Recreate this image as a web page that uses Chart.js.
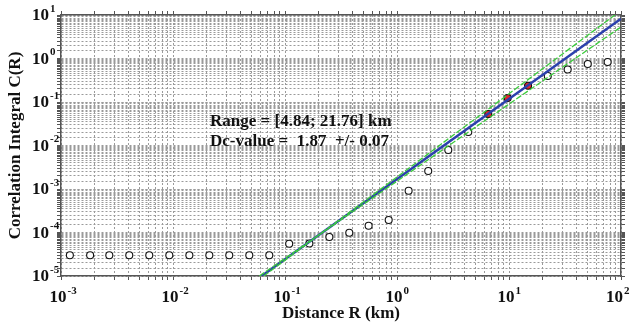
<!DOCTYPE html>
<html>
<head>
<meta charset="utf-8">
<script src="https://cdn.jsdelivr.net/npm/chart.js@4"></script>
<style>
  html, body { margin: 0; padding: 0; background: #fff; }
  #wrap { width: 630px; height: 322px; }
</style>
</head>
<body>
<div id="wrap"><canvas id="corrChart" width="630" height="322"></canvas></div>
<script>
// Correlation integral C(R) against distance R (km)
const distR = [0.0012, 0.00182, 0.0027, 0.00407, 0.00614, 0.00927, 0.014, 0.0211, 0.0318, 0.048, 0.0724,
  0.109, 0.165, 0.249, 0.375, 0.558, 0.843, 1.27, 1.9, 2.87, 4.33, 6.53, 9.73, 14.8, 22.2, 33.4, 50.5, 76.0];
const corrC = [3.0e-5, 3.0e-5, 3.0e-5, 3.0e-5, 3.0e-5, 3.0e-5, 3.0e-5, 3.0e-5, 3.0e-5, 3.0e-5, 3.0e-5,
  5.5e-5, 5.6e-5, 7.9e-5, 9.9e-5, 1.43e-4, 1.94e-4, 9.1e-4, 2.6e-3, 7.9e-3, 0.0204, 0.053, 0.124, 0.237, 0.396, 0.558, 0.748, 0.832];

// scaling range used for the fit
const rangeMin = 4.84;
const rangeMax = 21.76;

// fitted line (slope 1.87) and the +/- lines, end points
const fitR = [0.0618, 100];
const fitC = [1e-5, 8.2];
const upperR = [0.0646, 88.3];
const upperC = [1e-5, 10];
const lowerR = [0.059, 100];
const lowerC = [1e-5, 5.31];

// decade labels (exponents of 10)
const xTickExp = ['-3', '-2', '-1', '0', '1', '2'];
const yTickExp = ['1', '0', '-1', '-2', '-3', '-4', '-5'];
const noteLines = ['Range = [4.84; 21.76] km', 'Dc-value =  1.87  +/- 0.07'];

const serif = '"Liberation Serif", "Times New Roman", serif';

// grid positions: 1..9 per decade on x, half steps on y
const xGrid = [];
for (let e = -3; e <= 1; e++) for (let m = 1; m <= 9; m++) xGrid.push(m * Math.pow(10, e));
xGrid.push(100);
const yGrid = [];
for (let e = -5; e <= 0; e++) for (let m = 1; m < 10; m += 0.5) yGrid.push(m * Math.pow(10, e));
yGrid.push(10);

const toPts = (xs, ys) => xs.map((v, i) => ({ x: v, y: ys[i] }));

const decadeLabels = {
  id: 'decadeLabels',
  afterDraw(chart) {
    const ctx = chart.ctx;
    const xs = chart.scales.x, ys = chart.scales.y;
    const big = 'bold 17px ' + serif, small = 'bold 11px ' + serif;
    ctx.save();
    ctx.fillStyle = '#111';
    ctx.textBaseline = 'middle';

    yTickExp.forEach(e => {
      const py = ys.getPixelForValue(Math.pow(10, Number(e)));
      ctx.font = big; ctx.textAlign = 'right';
      ctx.fillText('10', 49, py + 1);
      ctx.font = small; ctx.textAlign = 'left';
      ctx.fillText(e, 50, py - 6);
    });

    xTickExp.forEach(e => {
      const px = xs.getPixelForValue(Math.pow(10, Number(e)));
      ctx.font = big; const w1 = ctx.measureText('10').width;
      const left = Math.min(px - 3 - w1 / 2, 606);
      ctx.textAlign = 'left';
      ctx.fillText('10', left, 298);
      ctx.font = small; ctx.fillText(e, left + w1 + 1, 291);
    });

    ctx.font = 'bold 17px ' + serif;
    ctx.textAlign = 'left';
    ctx.fillText(noteLines[0], 210, 122);
    ctx.fillText(noteLines[1], 210, 142);
    ctx.restore();
  }
};

function logAxis(position, min, max, grid, size, onArea) {
  const horizontal = position === 'top' || position === 'bottom';
  return {
    type: 'logarithmic',
    position: position,
    min: min,
    max: max,
    afterBuildTicks: axis => { axis.ticks = grid.map(v => ({ value: v })); },
    afterFit: axis => { if (horizontal) axis.height = size; else axis.width = size; },
    ticks: { display: false },
    grid: {
      drawOnChartArea: onArea,
      color: '#9a9a9a',
      lineWidth: 1,
      tickLength: 4,
      tickColor: '#555',
      tickWidth: 1,
      tickBorderDash: []
    },
    border: { display: true, color: '#555', width: 1.5, dash: [2, 2] }
  };
}

const scales = {
  x: logAxis('bottom', 1e-3, 100, xGrid, 46, true),
  xTop: logAxis('top', 1e-3, 100, xGrid, 15, false),
  y: logAxis('left', 1e-5, 10, yGrid, 61, true),
  yRight: logAxis('right', 1e-5, 10, yGrid, 9, false)
};
scales.x.title = { display: true, text: 'Distance R (km)', color: '#111',
  font: { family: serif, size: 17, weight: 'bold', lineHeight: 1 }, padding: 0 };
scales.y.title = { display: true, text: 'Correlation Integral C(R)', color: '#111',
  font: { family: serif, size: 17, weight: 'bold', lineHeight: 1.2 }, padding: 5 };

// first dataset is painted on top
new Chart(document.getElementById('corrChart'), {
  type: 'scatter',
  data: {
    datasets: [
      {
        data: toPts(upperR, upperC),
        showLine: true,
        borderColor: '#3ccc3c',
        borderWidth: 1.3,
        borderDash: [6, 2],
        pointRadius: 0
      },
      {
        data: toPts(lowerR, lowerC),
        showLine: true,
        borderColor: '#3ccc3c',
        borderWidth: 1.3,
        borderDash: [6, 2],
        pointRadius: 0
      },
      {
        data: toPts(fitR, fitC),
        showLine: true,
        borderColor: '#2b40ad',
        borderWidth: 2.5,
        pointRadius: 0
      },
      {
        data: toPts(distR, corrC),
        pointRadius: 3.5,
        pointBorderWidth: 1.1,
        pointBorderColor: '#111',
        pointBackgroundColor: c => {
          const r = distR[c.dataIndex];
          return (r >= rangeMin && r <= rangeMax) ? '#e3262b' : '#fff';
        }
      }
    ]
  },
  options: {
    responsive: false,
    animation: false,
    devicePixelRatio: 1,
    layout: { padding: 0 },
    plugins: { legend: { display: false }, tooltip: { enabled: false } },
    scales: scales
  },
  plugins: [decadeLabels]
});
</script>
</body>
</html>
